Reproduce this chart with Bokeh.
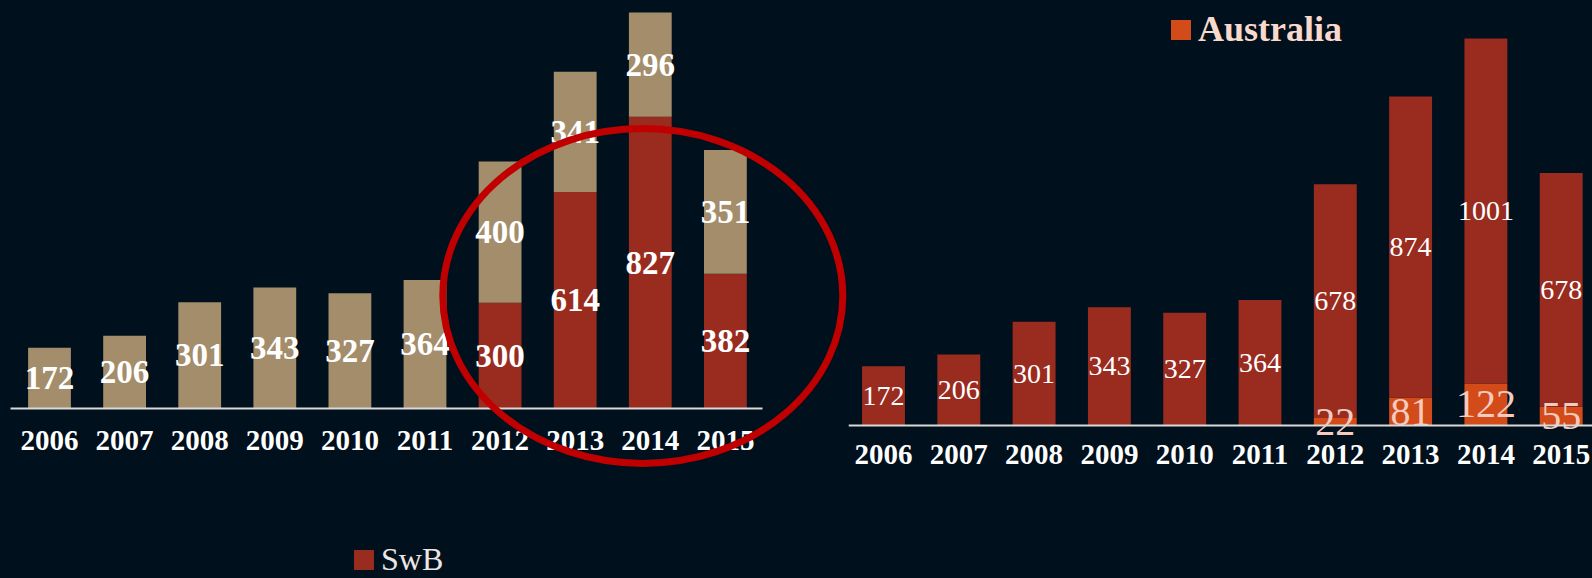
from bokeh.plotting import figure
from bokeh.models import ColumnDataSource, LinearAxis, FixedTicker, Legend, LegendItem, Range1d
from bokeh.layouts import row
from bokeh.embed import file_html
from bokeh.resources import INLINE
from bokeh.core.properties import value

# ---------------- data ----------------
years = [2006, 2007, 2008, 2009, 2010, 2011, 2012, 2013, 2014, 2015]
# left chart (stacked): SwB at bottom, remainder on top
swb = [0, 0, 0, 0, 0, 0, 300, 614, 827, 382]
left_other = [172, 206, 301, 343, 327, 364, 400, 341, 296, 351]
# right chart (stacked): Australia at bottom, remainder on top
australia = [0, 0, 0, 0, 0, 0, 22, 81, 122, 55]
right_other = [172, 206, 301, 343, 327, 364, 678, 874, 1001, 678]

# ---------------- style ----------------
BG = "#00101C"
TAN = "#A38D6A"
RED = "#992B1F"
ORANGE = "#D44B1A"
RING = "#C00000"
FONT = "Liberation Serif"
BAR_W = 0.57
H = 578


def base_fig(width, height, xr, yr):
    p = figure(width=width, height=height, x_range=xr, y_range=yr,
               output_backend="svg", toolbar_location=None,
               x_axis_location=None, y_axis_location=None, min_border=0,
               background_fill_color=BG, border_fill_color=BG,
               outline_line_color=None)
    p.grid.visible = False
    return p


def year_axis(bounds, standoff):
    ax = LinearAxis(fixed_location=0, ticker=FixedTicker(ticks=years),
                    axis_line_color="#D9D9D9", axis_line_width=2,
                    major_tick_line_color=None, minor_tick_line_color=None,
                    major_tick_out=0, major_tick_in=0,
                    major_label_text_color="white",
                    major_label_text_font=FONT,
                    major_label_text_font_style="bold",
                    major_label_text_font_size="29px",
                    major_label_standoff=standoff)
    if bounds is not None:
        ax.bounds = bounds
    return ax


# ---------------- left chart ----------------
LW = 848
lx0 = years[0] - 49 / 75.1
lp = base_fig(LW, H, Range1d(lx0, lx0 + LW / 75.1),
              Range1d(-170 / 0.3527, 408 / 0.3527))

left_src = ColumnDataSource(dict(
    x=years, swb=swb, other=left_other,
    top=[a + b for a, b in zip(swb, left_other)]))
r_swb = lp.vbar(x="x", bottom=0, top="swb", width=BAR_W, source=left_src,
                fill_color=RED, line_color=None)
lp.vbar(x="x", bottom="swb", top="top", width=BAR_W, source=left_src,
        fill_color=TAN, line_color=None)

lab_x, lab_y, lab_t = [], [], []
for yr, a, b in zip(years, swb, left_other):
    if a:
        lab_x.append(yr); lab_y.append(a / 2); lab_t.append(str(a))
    if b:
        lab_x.append(yr); lab_y.append(a + b / 2); lab_t.append(str(b))
lp.text(x="x", y="y", text="t",
        source=ColumnDataSource(dict(x=lab_x, y=lab_y, t=lab_t)),
        text_font=value(FONT), text_font_style="bold", text_font_size="33px",
        text_color="white", text_align="center", text_baseline="middle")

lp.add_layout(year_axis((years[0] - 0.52, years[-1] + 0.49), 22), "below")

# highlight ring around 2012-2015
ring = lp.ellipse(x=[2013.9], y=[319], width=400, height=335,
                  width_units="screen", height_units="screen",
                  fill_color=None, line_color=RING, line_width=7)
ring.level = "overlay"

lleg = Legend(items=[LegendItem(label="SwB", renderers=[r_swb])],
              location=(351, 0), orientation="horizontal",
              glyph_width=25, glyph_height=25, label_standoff=5,
              label_text_font=FONT, label_text_font_size="32px",
              label_text_color="#EDE6E4", padding=0, margin=0, spacing=0,
              border_line_alpha=0, background_fill_alpha=0)
lp.add_layout(lleg)

# ---------------- right chart ----------------
RW = 744
rx0 = years[0] - 35 / 75.3
rp = base_fig(RW, H, Range1d(rx0, rx0 + RW / 75.3),
              Range1d(-153 / 0.3446, 425 / 0.3446))

right_src = ColumnDataSource(dict(
    x=years, aus=australia, other=right_other,
    top=[a + b for a, b in zip(australia, right_other)]))
r_aus = rp.vbar(x="x", bottom=0, top="aus", width=BAR_W, source=right_src,
                fill_color=ORANGE, line_color=None)
rp.vbar(x="x", bottom="aus", top="top", width=BAR_W, source=right_src,
        fill_color=RED, line_color=None)

ox, oy, ot = [], [], []
ax_, ay_, at_ = [], [], []
for yr, a, b in zip(years, australia, right_other):
    if b:
        ox.append(yr); oy.append(a + b / 2); ot.append(str(b))
    if a:
        ax_.append(yr); ay_.append(a / 2); at_.append(str(a))
rp.text(x="x", y="y", text="t",
        source=ColumnDataSource(dict(x=ox, y=oy, t=ot)),
        text_font=value(FONT), text_font_size="28px",
        text_color="white", text_align="center", text_baseline="middle")
rp.text(x="x", y="y", text="t",
        source=ColumnDataSource(dict(x=ax_, y=ay_, t=at_)),
        text_font=value(FONT), text_font_size="40px",
        text_color="#F3CBC0", text_align="center", text_baseline="middle")

rp.add_layout(year_axis(None, 19), "below")

rleg = Legend(items=[LegendItem(label="Australia", renderers=[r_aus])],
              location=(320, 528), orientation="horizontal",
              glyph_width=25, glyph_height=25, label_standoff=5,
              label_text_font=FONT, label_text_font_style="bold",
              label_text_font_size="36px",
              label_text_color="#F8D9CB", padding=0, margin=0, spacing=0,
              border_line_alpha=0, background_fill_alpha=0)
rp.add_layout(rleg)

layout = row(lp, rp, spacing=0)
layout.styles = {"background-color": BG}
open("out.html", "w").write(file_html(layout, INLINE))
